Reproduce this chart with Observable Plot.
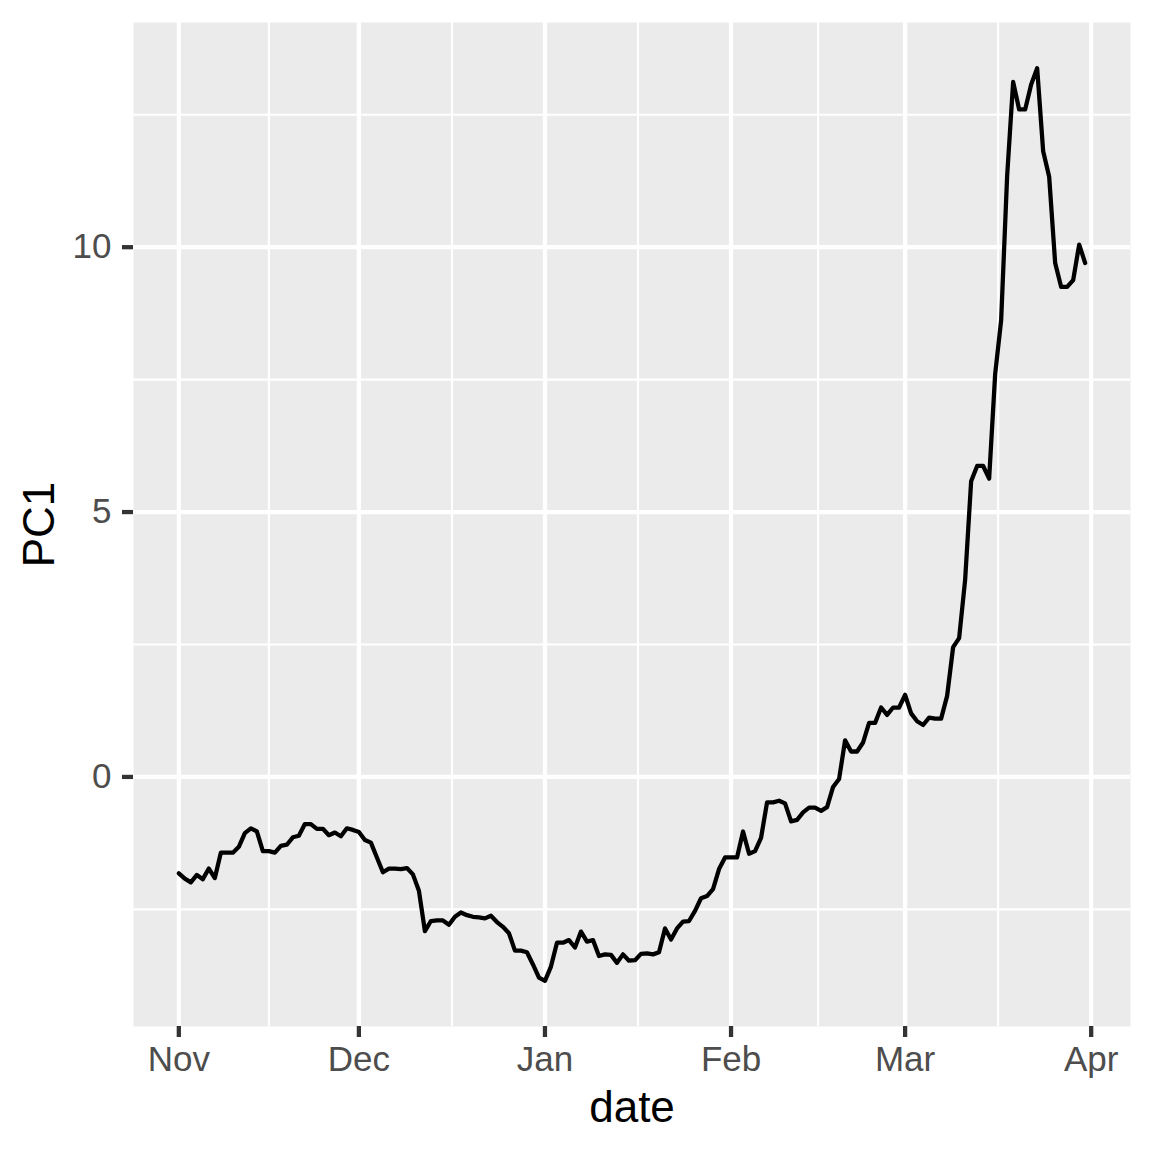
<!DOCTYPE html>
<html>
<head>
<meta charset="utf-8">
<script src="https://cdn.jsdelivr.net/npm/d3@7"></script>
<script src="https://cdn.jsdelivr.net/npm/@observablehq/plot@0.6"></script>
<style>
  body { margin: 0; background: #ffffff; }
  #chart svg { display: block; }
</style>
</head>
<body>
<div id="chart"></div>
<script>
// ---- data (daily, starting 2019-11-01) ----
const startDate = "2019-11-01";
const pc1 = [
  // Nov
  -1.82, -1.92, -1.99, -1.85, -1.93, -1.73, -1.91, -1.43, -1.43, -1.43,
  -1.32, -1.06, -0.97, -1.03, -1.40, -1.40, -1.43, -1.30, -1.28, -1.14,
  -1.11, -0.89, -0.89, -0.98, -0.98, -1.10, -1.05, -1.12, -0.97, -1.00,
  // Dec
  -1.04, -1.19, -1.24, -1.52, -1.80, -1.73, -1.73, -1.74, -1.72, -1.84,
  -2.15, -2.91, -2.72, -2.71, -2.71, -2.79, -2.64, -2.56, -2.61, -2.64,
  -2.65, -2.67, -2.62, -2.74, -2.83, -2.95, -3.28, -3.28, -3.31, -3.54,
  -3.79,
  // Jan
  -3.85, -3.58, -3.13, -3.13, -3.08, -3.22, -2.92, -3.11, -3.08, -3.38,
  -3.35, -3.36, -3.51, -3.35, -3.47, -3.46, -3.34, -3.33, -3.35, -3.31,
  -2.86, -3.07, -2.86, -2.73, -2.72, -2.53, -2.29, -2.25, -2.12, -1.74,
  -1.52,
  // Feb
  -1.52, -1.52, -1.03, -1.45, -1.40, -1.15, -0.48, -0.48, -0.45, -0.50,
  -0.84, -0.81, -0.67, -0.58, -0.58, -0.64, -0.57, -0.19, -0.04, 0.69,
  0.48, 0.48, 0.65, 1.02, 1.02, 1.31, 1.17, 1.31, 1.31,
  // Mar
  1.55, 1.20, 1.05, 0.98, 1.12, 1.10, 1.10, 1.53, 2.45, 2.62,
  3.72, 5.58, 5.87, 5.87, 5.63, 7.60, 8.62, 11.35, 13.12, 12.60,
  12.60, 13.07, 13.38, 11.81, 11.33, 9.70, 9.25, 9.25, 9.38, 10.05,
  9.70
];
const monthTickDates = ["2019-11-01", "2019-12-01", "2020-01-01", "2020-02-01", "2020-03-01", "2020-04-01"];
const monthTickLabels = ["Nov", "Dec", "Jan", "Feb", "Mar", "Apr"];
const yTicks = [0, 5, 10];
const yTickLabels = ["0", "5", "10"];
const yMinorTicks = [-2.5, 2.5, 7.5, 12.5];
const xLabel = "date";
const yLabel = "PC1";

// ---- derived tables ----
const start = new Date(startDate + "T00:00:00Z");
const data = pc1.map((v, i) => ({ date: d3.utcDay.offset(start, i), PC1: v }));
const monthDates = monthTickDates.map(s => new Date(s + "T00:00:00Z"));
const monthMinor = d3.pairs(monthDates).map(([a, b]) => new Date((+a + +b) / 2));

// ggplot-like 5% expansion
const xExt = d3.extent(data, d => +d.date);
const xPad = (xExt[1] - xExt[0]) * 0.05;
const xDomain = [new Date(xExt[0] - xPad), new Date(xExt[1] + xPad)];
const yExt = d3.extent(pc1);
const yPad = (yExt[1] - yExt[0]) * 0.05;
const yDomain = [yExt[0] - yPad, yExt[1] + yPad];

const lw = 4.27;
const font = "'Liberation Sans', Arial, Helvetica, sans-serif";

const chart = Plot.plot({
  width: 1152,
  height: 1152,
  marginLeft: 133,
  marginRight: 22,
  marginTop: 22,
  marginBottom: 126,
  style: { fontFamily: font, background: "#ffffff", overflow: "visible" },
  x: { type: "utc", domain: xDomain },
  y: { domain: yDomain },
  marks: [
    Plot.frame({ fill: "#EBEBEB", stroke: null }),
    Plot.ruleX(monthMinor, { stroke: "#ffffff", strokeWidth: lw / 2 }),
    Plot.ruleY(yMinorTicks, { stroke: "#ffffff", strokeWidth: lw / 2 }),
    Plot.ruleX(monthDates, { stroke: "#ffffff", strokeWidth: lw }),
    Plot.ruleY(yTicks, { stroke: "#ffffff", strokeWidth: lw }),
    Plot.line(data, { x: "date", y: "PC1", stroke: "#000000", strokeWidth: lw, strokeLinejoin: "round" }),
    Plot.axisX(monthDates, {
      tickFormat: d => monthTickLabels[monthDates.findIndex(m => +m === +d)],
      tickSize: 11, tickPadding: 9, fontSize: 35,
      fill: "#4D4D4D", stroke: "#333333", strokeWidth: lw, label: null
    }),
    Plot.axisY(yTicks, {
      tickFormat: d => yTickLabels[yTicks.indexOf(d)],
      tickSize: 11, tickPadding: 11, fontSize: 35,
      fill: "#4D4D4D", stroke: "#333333", strokeWidth: lw, label: null
    }),
    Plot.text([xLabel], {
      text: d => d, frameAnchor: "bottom", dy: 95,
      lineAnchor: "bottom", textAnchor: "middle", fontSize: 44, fill: "#000000"
    }),
    Plot.text([yLabel], {
      text: d => d, frameAnchor: "left", dx: -80, rotate: -90,
      lineAnchor: "bottom", textAnchor: "middle", fontSize: 44, fill: "#000000"
    })
  ]
});

document.getElementById("chart").appendChild(chart);
</script>
</body>
</html>
